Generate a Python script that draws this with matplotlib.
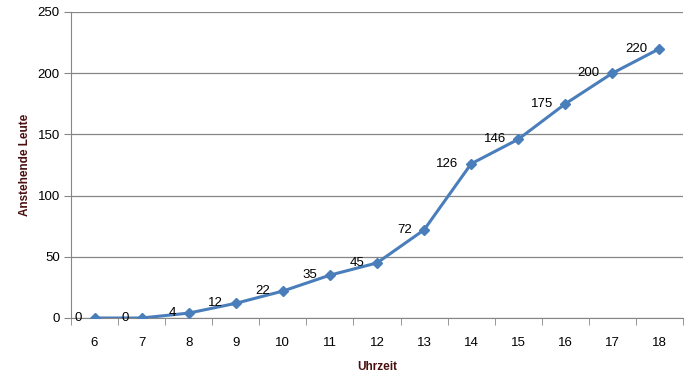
import numpy as np
import matplotlib.pyplot as plt

# Daten
stunden = [6, 7, 8, 9, 10, 11, 12, 13, 14, 15, 16, 17, 18]
leute = [0, 0, 4, 12, 22, 35, 45, 72, 126, 146, 175, 200, 220]
y_ticks = [0, 50, 100, 150, 200, 250]

plt.rcParams['font.family'] = ['Liberation Sans', 'DejaVu Sans']

fig = plt.figure(figsize=(6.92, 3.86), dpi=100)
ax = fig.add_axes([71/692, 68/386, 612/692, 306/386])

x = np.arange(len(stunden))
ax.plot(x, leute, color='#4A7EBB', linewidth=2.2, marker='D', markersize=5.5,
        markerfacecolor='#4A7EBB', markeredgecolor='#4A7EBB', zorder=3)

for xi, v in zip(x, leute):
    ax.annotate(str(v), (xi, v), xytext=(-9, 0), textcoords='offset points',
                ha='right', va='center', fontsize=9.5, color='black')

ax.set_xlim(-0.5, len(stunden) - 0.5)
ax.set_ylim(0, 250)
ax.set_yticks(y_ticks)
ax.set_xticks(x)
ax.set_xticklabels([str(s) for s in stunden], fontsize=9.5)
ax.set_xticks(np.arange(-0.5, len(stunden)), minor=True)
ax.tick_params(axis='x', which='major', length=0, pad=14)
ax.tick_params(axis='x', which='minor', length=5, color='#868686', direction='out')
ax.tick_params(axis='y', length=5, color='#868686', labelsize=9.5, pad=3)

ax.yaxis.grid(True, color='#868686', linewidth=0.9)
ax.set_axisbelow(True)
for s in ['top', 'right']:
    ax.spines[s].set_visible(False)
ax.spines['left'].set_color('#868686')
ax.spines['bottom'].set_color('#868686')

ax.set_xlabel('Uhrzeit', fontsize=8.5, fontweight='bold', color='#4A1010', labelpad=8)
ax.set_ylabel('Anstehende Leute', fontsize=8.5, fontweight='bold', color='#4A1010', labelpad=5)

fig.savefig('out.png', dpi=100)
